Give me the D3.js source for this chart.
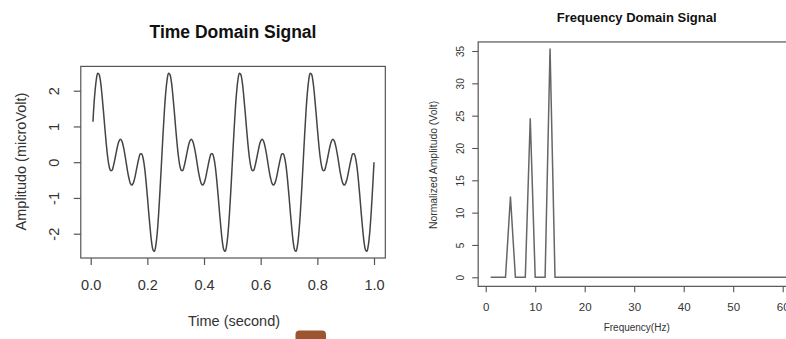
<!DOCTYPE html>
<html><head><meta charset="utf-8">
<script src="https://cdn.jsdelivr.net/npm/d3@7"></script>
<style>
html,body{margin:0;padding:0;background:#fff;overflow:hidden}
svg{display:block;font-family:"Liberation Sans",Arial,sans-serif}
</style></head><body>
<svg id="c" width="786" height="339"></svg>
<script>
// ---------- data ----------
const timeSeconds = [0.008,0.01,0.015,0.02,0.025,0.03,0.035,0.04,0.045,0.05,0.055,0.06,0.065,0.07,0.075,0.08,0.085,0.09,0.095,0.1,0.105,0.11,0.115,0.12,0.125,0.13,0.135,0.14,0.145,0.15,0.155,0.16,0.165,0.17,0.175,0.18,0.185,0.19,0.195,0.2,0.205,0.21,0.215,0.22,0.225,0.23,0.235,0.24,0.245,0.25,0.255,0.26,0.265,0.27,0.275,0.28,0.285,0.29,0.295,0.3,0.305,0.31,0.315,0.32,0.325,0.33,0.335,0.34,0.345,0.35,0.355,0.36,0.365,0.37,0.375,0.38,0.385,0.39,0.395,0.4,0.405,0.41,0.415,0.42,0.425,0.43,0.435,0.44,0.445,0.45,0.455,0.46,0.465,0.47,0.475,0.48,0.485,0.49,0.495,0.5,0.505,0.51,0.515,0.52,0.525,0.53,0.535,0.54,0.545,0.55,0.555,0.56,0.565,0.57,0.575,0.58,0.585,0.59,0.595,0.6,0.605,0.61,0.615,0.62,0.625,0.63,0.635,0.64,0.645,0.65,0.655,0.66,0.665,0.67,0.675,0.68,0.685,0.69,0.695,0.7,0.705,0.71,0.715,0.72,0.725,0.73,0.735,0.74,0.745,0.75,0.755,0.76,0.765,0.77,0.775,0.78,0.785,0.79,0.795,0.8,0.805,0.81,0.815,0.82,0.825,0.83,0.835,0.84,0.845,0.85,0.855,0.86,0.865,0.87,0.875,0.88,0.885,0.89,0.895,0.9,0.905,0.91,0.915,0.92,0.925,0.93,0.935,0.94,0.945,0.95,0.955,0.96,0.965,0.97,0.975,0.98,0.985,0.99,0.995,1.0];
const amplitudeMicroVolt = [1.13,1.42,1.96,2.32,2.49,2.45,2.24,1.87,1.43,0.95,0.51,0.14,-0.11,-0.23,-0.23,-0.11,0.07,0.27,0.46,0.59,0.64,0.59,0.45,0.25,0,-0.25,-0.45,-0.59,-0.64,-0.59,-0.46,-0.27,-0.07,0.11,0.23,0.23,0.11,-0.14,-0.51,-0.95,-1.43,-1.87,-2.24,-2.45,-2.49,-2.32,-1.96,-1.42,-0.74,
0,0.74,1.42,1.96,2.32,2.49,2.45,2.24,1.87,1.43,0.95,0.51,0.14,-0.11,-0.23,-0.23,-0.11,0.07,0.27,0.46,0.59,0.64,0.59,0.45,0.25,0,-0.25,-0.45,-0.59,-0.64,-0.59,-0.46,-0.27,-0.07,0.11,0.23,0.23,0.11,-0.14,-0.51,-0.95,-1.43,-1.87,-2.24,-2.45,-2.49,-2.32,-1.96,-1.42,-0.74,
0,0.74,1.42,1.96,2.32,2.49,2.45,2.24,1.87,1.43,0.95,0.51,0.14,-0.11,-0.23,-0.23,-0.11,0.07,0.27,0.46,0.59,0.64,0.59,0.45,0.25,0,-0.25,-0.45,-0.59,-0.64,-0.59,-0.46,-0.27,-0.07,0.11,0.23,0.23,0.11,-0.14,-0.51,-0.95,-1.43,-1.87,-2.24,-2.45,-2.49,-2.32,-1.96,-1.42,-0.74,
0,0.74,1.42,1.96,2.32,2.49,2.45,2.24,1.87,1.43,0.95,0.51,0.14,-0.11,-0.23,-0.23,-0.11,0.07,0.27,0.46,0.59,0.64,0.59,0.45,0.25,0,-0.25,-0.45,-0.59,-0.64,-0.59,-0.46,-0.27,-0.07,0.11,0.23,0.23,0.11,-0.14,-0.51,-0.95,-1.43,-1.87,-2.24,-2.45,-2.49,-2.32,-1.96,-1.42,-0.74,
0];
const timeTicks = [0, 0.2, 0.4, 0.6, 0.8, 1.0];
const timeTickLabels = ["0.0","0.2","0.4","0.6","0.8","1.0"];
const ampTicks = [-2, -1, 0, 1, 2];
const ampTickLabels = ["-2","-1","0","1","2"];

const frequencyHz = [1,2,3,4,5,6,7,8,9,10,11,12,13,14,15,16,17,18,19,20,21,22,23,24,25,26,27,28,29,30,31,32,33,34,35,36,37,38,39,40,41,42,43,44,45,46,47,48,49,50,51,52,53,54,55,56,57,58,59,60,61,62,63,64];
const normAmplitude = [0,0,0,0,12.5,0,0,0,24.6,0,0,0,35.4,0,0,0,0,0,0,0,0,0,0,0,0,0,0,0,0,0,0,0,0,0,0,0,0,0,0,0,0,0,0,0,0,0,0,0,0,0,0,0,0,0,0,0,0,0,0,0,0,0,0,0];
const freqTicks = [0, 10, 20, 30, 40, 50, 60];
const normTicks = [0, 5, 10, 15, 20, 25, 30, 35];

// ---------- drawing ----------
const svg = d3.select("#c");
svg.append("rect").attr("width",786).attr("height",339).attr("fill","#fff");
const axisCol = "#555", textCol = "#333", lineCol = "#444";
const FONT = '"Liberation Sans",Arial,sans-serif';

// ===== Left: time domain =====
const xL = d3.scaleLinear().domain([0, 1]).range([90.7, 374]);
const yL = d3.scaleLinear().domain([-2, 2]).range([233.7, 90.7]);
const lx0 = xL(-0.035), lx1 = xL(1.04), ly0 = yL(2.68), ly1 = yL(-2.68);

const gL = svg.append("g");
gL.append("rect").attr("x", lx0).attr("y", ly0).attr("width", lx1 - lx0).attr("height", ly1 - ly0)
  .attr("fill","none").attr("stroke", axisCol).attr("stroke-width", 1.2);

const lineL = d3.line().x((d,i)=>xL(timeSeconds[i])).y(d=>yL(d)).curve(d3.curveCatmullRom);
gL.append("path").datum(amplitudeMicroVolt).attr("d", lineL)
  .attr("fill","none").attr("stroke", lineCol).attr("stroke-width", 1.5);

const axBL = d3.axisBottom(xL).tickValues(timeTicks).tickSize(7).tickSizeOuter(0).tickFormat((d,i)=>timeTickLabels[i]);
const gxL = gL.append("g").attr("transform",`translate(0,${ly1})`).call(axBL);
gxL.select(".domain").remove();
gxL.selectAll("line").attr("stroke", axisCol).attr("stroke-width",1.2);
gxL.selectAll("text").attr("y", 31.5).attr("dy",0).attr("fill", textCol)
  .style("font-size","14.5px").style("font-family",FONT);

const axLL = d3.axisLeft(yL).tickValues(ampTicks).tickSize(7).tickSizeOuter(0).tickFormat((d,i)=>ampTickLabels[i]);
const gyL = gL.append("g").attr("transform",`translate(${lx0},0)`).call(axLL);
gyL.select(".domain").remove();
gyL.selectAll("line").attr("stroke", axisCol).attr("stroke-width",1.2);
gyL.selectAll("text").attr("transform","rotate(-90)").attr("x",0).attr("y",-22).attr("dy",0)
  .attr("text-anchor","middle").attr("fill", textCol)
  .style("font-size","14.5px").style("font-family",FONT);

gL.append("text").attr("x", 233).attr("y", 38).attr("text-anchor","middle")
  .attr("font-size","17.5px").attr("font-weight","bold").attr("fill","#111").text("Time Domain Signal");
gL.append("text").attr("x", 234).attr("y", 325.5).attr("text-anchor","middle")
  .attr("font-size","14.5px").attr("fill", textCol).text("Time (second)");
gL.append("text").attr("transform","translate(25.5,161.5) rotate(-90)").attr("text-anchor","middle")
  .attr("font-size","14.5px").attr("fill", textCol).text("Amplitudo (microVolt)");

// ===== Right: frequency domain =====
const xR = d3.scaleLinear().domain([0, 10]).range([485.7, 535.2]);
const yR = d3.scaleLinear().domain([0, 35]).range([277.3, 51]);
const rx0 = xR(-1.52), rx1 = xR(66.52), ry0 = yR(36.4), ry1 = yR(-1.4);

const gR = svg.append("g");
gR.append("rect").attr("x", rx0).attr("y", ry0).attr("width", rx1 - rx0).attr("height", ry1 - ry0)
  .attr("fill","none").attr("stroke", axisCol).attr("stroke-width", 1.2);

const lineR = d3.line().x((d,i)=>xR(frequencyHz[i])).y(d=>yR(d));
gR.append("path").datum(normAmplitude).attr("d", lineR)
  .attr("fill","none").attr("stroke", "#666").attr("stroke-width", 1.5).attr("stroke-linejoin","miter");

const axBR = d3.axisBottom(xR).tickValues(freqTicks).tickSize(6).tickSizeOuter(0).tickFormat(d=>String(d));
const gxR = gR.append("g").attr("transform",`translate(0,${ry1})`).call(axBR);
gxR.select(".domain").remove();
gxR.selectAll("line").attr("stroke", axisCol).attr("stroke-width",1.1);
gxR.selectAll("text").attr("y", 24.5).attr("dy",0).attr("fill", textCol)
  .style("font-size","11.5px").style("font-family",FONT);

const axLR = d3.axisLeft(yR).tickValues(normTicks).tickSize(6).tickSizeOuter(0).tickFormat(d=>String(d));
const gyR = gR.append("g").attr("transform",`translate(${rx0},0)`).call(axLR);
gyR.select(".domain").remove();
gyR.selectAll("line").attr("stroke", axisCol).attr("stroke-width",1.1);
gyR.selectAll("text").attr("transform","rotate(-90)").attr("x",0).attr("y",-14.5).attr("dy",0)
  .attr("text-anchor","middle").attr("fill", textCol)
  .style("font-size","10px").style("font-family",FONT);

gR.append("text").attr("x", 636.7).attr("y", 21.5).attr("text-anchor","middle")
  .attr("font-size","13px").attr("font-weight","bold").attr("fill","#111").text("Frequency Domain Signal");
gR.append("text").attr("x", 636.7).attr("y", 331).attr("text-anchor","middle")
  .attr("font-size","10px").attr("fill", textCol).text("Frequency(Hz)");
gR.append("text").attr("transform","translate(436.5,165) rotate(-90)").attr("text-anchor","middle")
  .attr("font-size","10.4px").attr("fill", textCol).text("Normalized Amplitudo (Volt)");

// small brown tab at bottom edge of the picture
svg.append("rect").attr("x",295.5).attr("y",330.5).attr("width",30.5).attr("height",14).attr("rx",4)
  .attr("fill","#9c5530");
</script>
</body></html>
